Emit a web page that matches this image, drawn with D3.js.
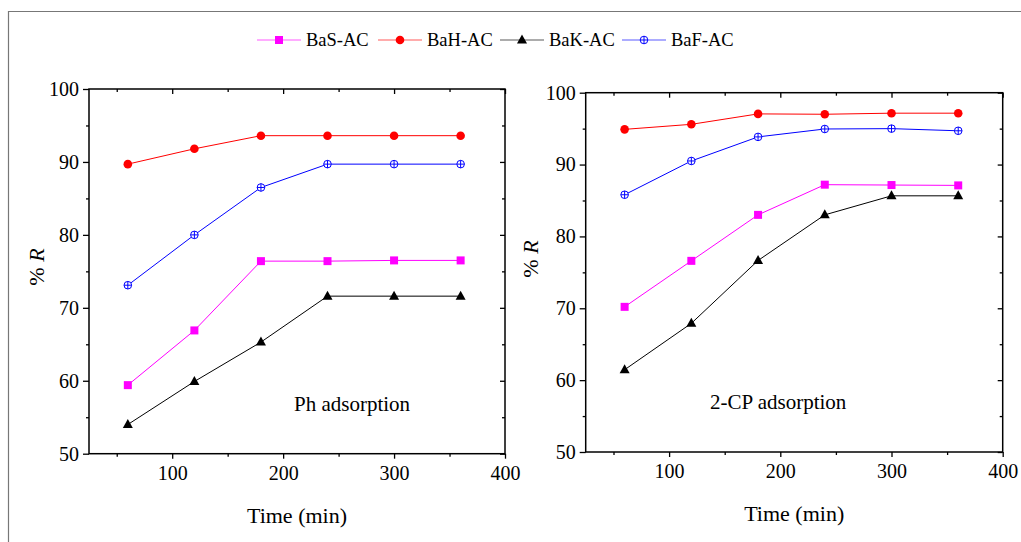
<!DOCTYPE html>
<html><head><meta charset="utf-8">
<script src="https://cdn.jsdelivr.net/npm/d3@7"></script>
<style>
body{margin:0;background:#fff;}
</style></head>
<body><svg id="c" width="1021" height="542"></svg>
<script>
const times = [60, 120, 180, 240, 300, 360];
const seriesNames = ["BaS-AC", "BaH-AC", "BaK-AC", "BaF-AC"];
const seriesColors = ["#ff00ff", "#ff0000", "#000000", "#0000ff"];
const seriesMarkers = ["square", "circle", "triangle", "crosscircle"];
// Ph adsorption
const phBaS = [59.4, 66.9, 76.4, 76.4, 76.5, 76.5];
const phBaH = [89.7, 91.8, 93.6, 93.6, 93.6, 93.6];
const phBaK = [54.0, 59.9, 65.3, 71.6, 71.6, 71.6];
const phBaF = [73.1, 80.0, 86.5, 89.7, 89.7, 89.7];
// 2-CP adsorption
const cpBaS = [70.2, 76.6, 83.0, 87.2, 87.15, 87.1];
const cpBaH = [94.9, 95.6, 97.05, 97.0, 97.15, 97.15];
const cpBaK = [61.45, 67.9, 76.65, 83.0, 85.65, 85.65];
const cpBaF = [85.8, 90.5, 93.85, 94.95, 95.0, 94.7];
const xTicks = [100, 200, 300, 400];
const yTicks = [50, 60, 70, 80, 90, 100];
const panelLabels = ["Ph adsorption", "2-CP adsorption"];

const FONT = '"Liberation Serif", "Times New Roman", serif';
const svg = d3.select("#c");
// outer frame
svg.append("path").attr("d","M8.5,542 L8.5,11.5 L1021,11.5").attr("fill","none").attr("stroke","#777").attr("stroke-width",1.2);

function drawMarker(g, type, x, y, color){
  if(type==="square"){
    g.append("rect").attr("x",x-4).attr("y",y-4).attr("width",8).attr("height",8).attr("fill",color);
  } else if(type==="circle"){
    g.append("circle").attr("cx",x).attr("cy",y).attr("r",4.3).attr("fill",color);
  } else if(type==="triangle"){
    g.append("path").attr("d",`M${x},${y-5.5}L${x+5},${y+3.5}L${x-5},${y+3.5}Z`).attr("fill",color);
  } else {
    g.append("circle").attr("cx",x).attr("cy",y).attr("r",3.8).attr("fill","#fff").attr("stroke",color).attr("stroke-width",1);
    g.append("path").attr("d",`M${x-3.8},${y}H${x+3.8}M${x},${y-3.8}V${y+3.8}`).attr("stroke",color).attr("stroke-width",1);
  }
}

function txt(sel, size){
  return sel.style("font-family",FONT).style("font-size",size+"px").attr("fill","#000");
}

function panel(cfg){
  const {x0,x1,y0,y1,data,label,labelX,labelY,yTitleX,yTitleY,xTitleY} = cfg;
  const xs = d3.scaleLinear().domain([25,400]).range([x0,x1]);
  const ys = d3.scaleLinear().domain([50,100]).range([y1,y0]);
  const g = svg.append("g");
  data.forEach((vals,i)=>{
    const pts = times.map((t,j)=>[xs(t),ys(vals[j])]);
    g.append("path").attr("d",d3.line()(pts)).attr("fill","none").attr("stroke",seriesColors[i]).attr("stroke-width",1);
    pts.forEach(p=>drawMarker(g,seriesMarkers[i],p[0],p[1],seriesColors[i]));
  });
  const minorX = [50,150,250,350];
  const minorY = [55,65,75,85,95];
  const ax = svg.append("g");
  ax.append("g").attr("transform",`translate(0,${y1})`)
    .call(d3.axisBottom(xs).tickValues(xTicks).tickSizeInner(5).tickSizeOuter(0).tickPadding(7));
  ax.append("g").attr("transform",`translate(0,${y1})`)
    .call(d3.axisBottom(xs).tickValues(minorX).tickSize(3).tickFormat(""));
  ax.append("g").attr("transform",`translate(${x0},0)`)
    .call(d3.axisLeft(ys).tickValues(yTicks).tickSizeInner(6).tickSizeOuter(0).tickPadding(4));
  ax.append("g").attr("transform",`translate(${x0},0)`)
    .call(d3.axisLeft(ys).tickValues(minorY).tickSize(3).tickFormat(""));
  ax.append("g").attr("transform",`translate(0,${y0})`)
    .call(d3.axisBottom(xs).tickValues(xTicks).tickSize(5).tickFormat(""));
  ax.append("g").attr("transform",`translate(0,${y0})`)
    .call(d3.axisBottom(xs).tickValues(minorX).tickSize(3).tickFormat(""));
  ax.append("g").attr("transform",`translate(${x1},0)`)
    .call(d3.axisLeft(ys).tickValues(yTicks).tickSize(5).tickFormat(""));
  ax.append("g").attr("transform",`translate(${x1},0)`)
    .call(d3.axisLeft(ys).tickValues(minorY).tickSize(3).tickFormat(""));
  ax.selectAll(".domain").remove();
  ax.selectAll(".tick line").attr("stroke","#000").attr("stroke-width",1.3);
  txt(ax.selectAll(".tick text"), 20);
  svg.append("rect").attr("x",x0).attr("y",y0).attr("width",x1-x0).attr("height",y1-y0)
    .attr("fill","none").attr("stroke","#000").attr("stroke-width",1.5);
  txt(svg.append("text").attr("x",labelX).attr("y",labelY), 21).text(label);
  txt(svg.append("text").attr("x",(x0+x1)/2).attr("y",xTitleY).attr("text-anchor","middle"), 22).text("Time (min)");
  const yt = txt(svg.append("text").attr("transform",`translate(${yTitleX},${yTitleY}) rotate(-90)`).attr("text-anchor","middle"), 22);
  yt.append("tspan").text("% ");
  yt.append("tspan").style("font-style","italic").text("R");
}

panel({x0:89,x1:505,y0:89,y1:453.7,data:[phBaS,phBaH,phBaK,phBaF],label:panelLabels[0],
  labelX:294,labelY:411,yTitleX:44,yTitleY:267,xTitleY:523});
panel({x0:585.7,x1:1002.7,y0:92.7,y1:452,data:[cpBaS,cpBaH,cpBaK,cpBaF],label:panelLabels[1],
  labelX:710,labelY:409,yTitleX:538,yTitleY:259,xTitleY:521});

// legend
const legendX = [257, 378, 500, 622];
const lg = svg.append("g");
seriesNames.forEach((n,i)=>{
  const x = legendX[i], y = 40;
  lg.append("line").attr("x1",x).attr("x2",x+44).attr("y1",y).attr("y2",y).attr("stroke",seriesColors[i]).attr("stroke-opacity",0.65).attr("stroke-width",1.2);
  drawMarker(lg,seriesMarkers[i],x+22,y,seriesColors[i]);
  txt(lg.append("text").attr("x",x+49).attr("y",y+6), 18.5).text(n);
});
</script></body></html>
